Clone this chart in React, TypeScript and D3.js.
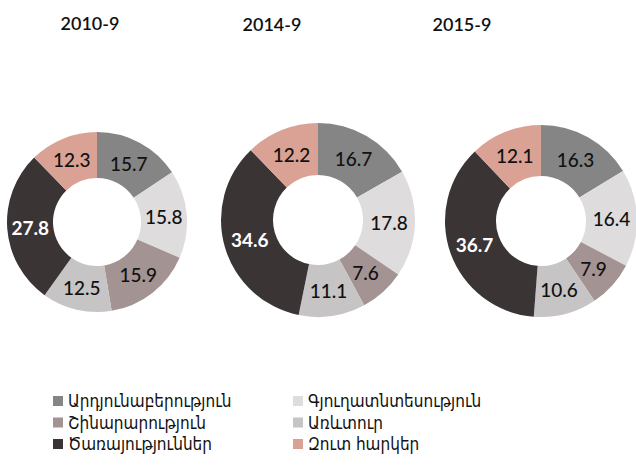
import React from "react";
import * as d3 from "d3";

const years = ["2010-9", "2014-9", "2015-9"];
const categories = [
  "Արդյունաբերություն",
  "Գյուղատնտեսություն",
  "Շինարարություն",
  "Առևտուր",
  "Ծառայություններ",
  "Զուտ հարկեր",
];
const values2010 = [15.7, 15.8, 15.9, 12.5, 27.8, 12.3];
const values2014 = [16.7, 17.8, 7.6, 11.1, 34.6, 12.2];
const values2015 = [16.3, 16.4, 7.9, 10.6, 36.7, 12.1];
const series = [values2010, values2014, values2015];
const colors = ["#858585", "#dedcdc", "#a39393", "#c6c4c4", "#3b3435", "#d9a294"];
const labelColors = ["#111", "#111", "#111", "#111", "#fff", "#111"];

const donutLayout = [
  { cx: 97, cy: 222, r: 90, ri: 44 },
  { cx: 318, cy: 220, r: 97, ri: 45 },
  { cx: 541, cy: 221, r: 96, ri: 45 },
];
const titlePos = [
  { x: 90, y: 23 },
  { x: 272, y: 24 },
  { x: 462, y: 24 },
];

export default function App() {
  const pie = d3
    .pie<number>()
    .sort(null)
    .value((d) => d);
  const legendOrder = [
    [0, 1],
    [2, 3],
    [4, 5],
  ];
  return (
    <svg
      width={636}
      height={465}
      style={{ position: "absolute", left: 0, top: 0, background: "#fff" }}
    >
      {series.map((vals, i) => {
        const L = donutLayout[i];
        const arc = d3.arc<d3.PieArcDatum<number>>().innerRadius(L.ri).outerRadius(L.r);
        const arcs = pie(vals);
        return (
          <g key={i}>
            <text
              x={titlePos[i].x}
              y={titlePos[i].y}
              textAnchor="middle"
              dominantBaseline="central"
              fontFamily="Lato, 'Open Sans', sans-serif"
              fontWeight={600}
              fontSize={18}
              fill="#111"
            >
              {years[i]}
            </text>
            <g transform={`translate(${L.cx},${L.cy})`}>
              {arcs.map((a, j) => (
                <path key={j} d={arc(a) || ""} fill={colors[j]} />
              ))}
              {arcs.map((a, j) => {
                const [x, y] = arc.centroid(a);
                return (
                  <text
                    key={"t" + j}
                    x={x}
                    y={y}
                    textAnchor="middle"
                    dominantBaseline="central"
                    fontFamily="Lato, 'Open Sans', sans-serif"
                    fontWeight={j === 4 ? 700 : 500}
                    fontSize={19}
                    fill={labelColors[j]}
                  >
                    {a.data.toFixed(1)}
                  </text>
                );
              })}
            </g>
          </g>
        );
      })}
      {legendOrder.map((row, ri) =>
        row.map((ci, k) => {
          const x = k === 0 ? 53 : 293;
          const y = 401 + ri * 21.5;
          return (
            <g key={ci}>
              <rect x={x} y={y - 5} width={10} height={10} fill={colors[ci]} />
              <text
                x={x + 15}
                y={y}
                dominantBaseline="central"
                fontFamily="'DejaVu Sans Condensed', 'DejaVu Sans', sans-serif"
                fontStretch="condensed"
                fontSize={17}
                fill="#111"
              >
                {categories[ci]}
              </text>
            </g>
          );
        })
      )}
    </svg>
  );
}
